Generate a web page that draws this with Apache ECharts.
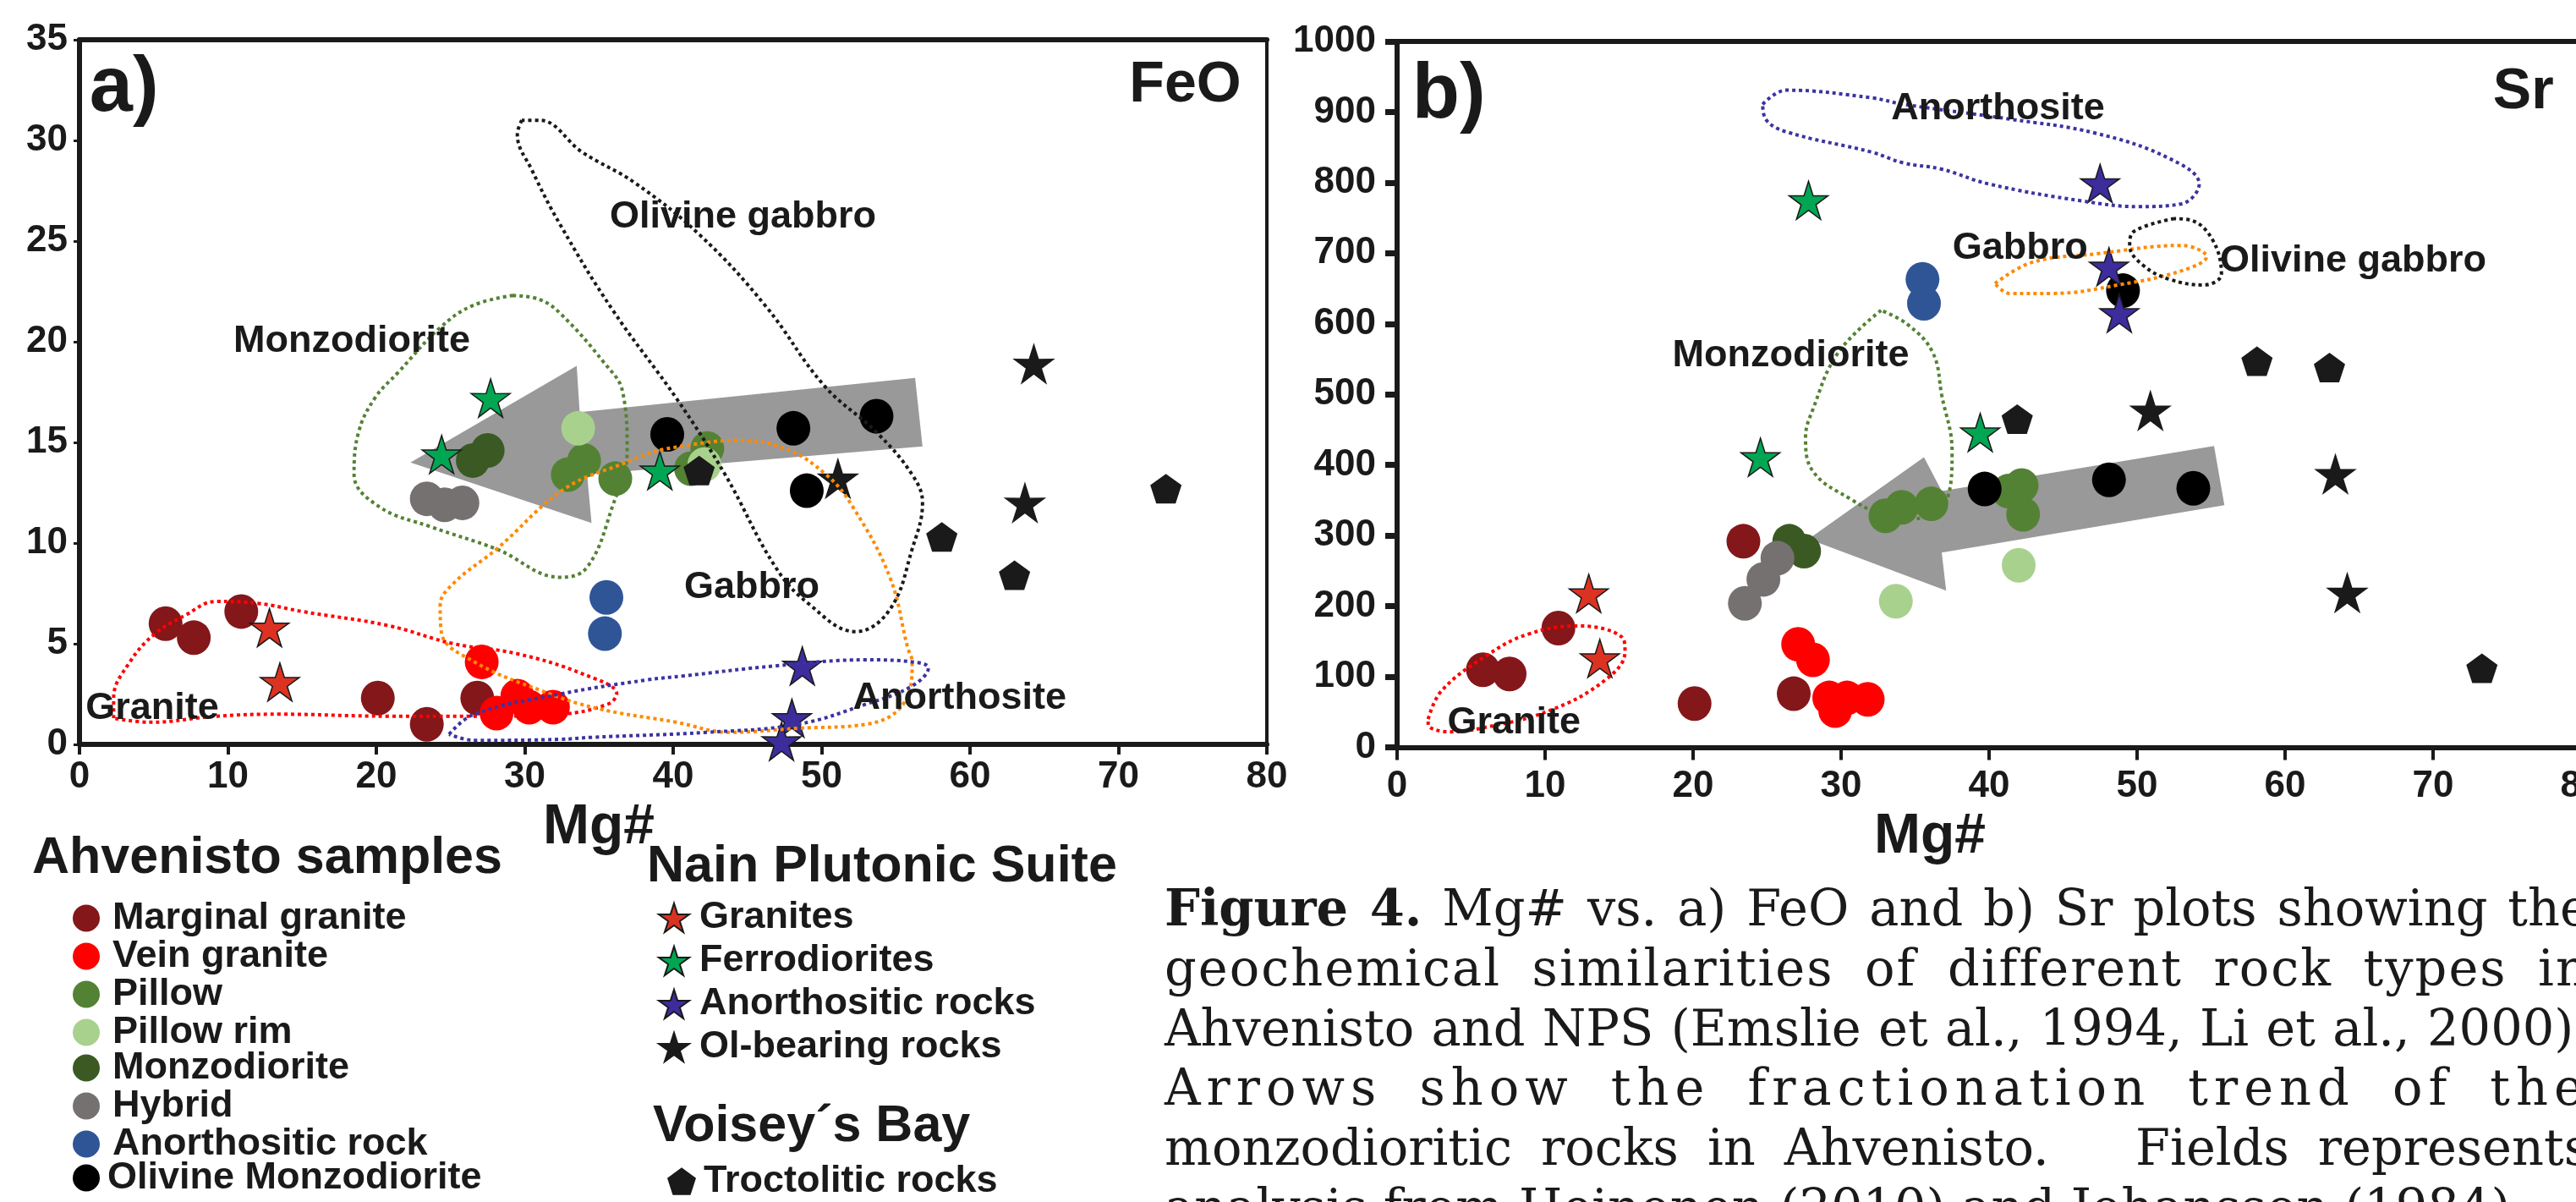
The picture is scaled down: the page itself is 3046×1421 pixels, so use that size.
<!DOCTYPE html>
<html>
<head>
<meta charset="utf-8">
<title>Mg# vs FeO and Sr</title>
<script src="https://cdn.jsdelivr.net/npm/echarts@6/dist/echarts.min.js"></script>
<style>
  html, body { margin: 0; padding: 0; background: #fff; overflow: hidden; }
  #chart { position: absolute; left: 0; top: 0; width: 3046px; height: 1421px; }
  #caption {
    position: absolute; left: 1377px; top: 1039px; width: 1685px;
    font-family: 'DejaVu Serif', Georgia, serif; font-size: 59px; line-height: 70.8px; color: #1a1a1a;
  }
  #caption .j { text-align: justify; text-align-last: justify; }
  #caption .wide { letter-spacing: 7px; }
  #caption .mid { letter-spacing: 2px; }
</style>
</head>
<body>
<div id="chart"></div>
<div id="caption">
  <div class="j"><b>Figure 4.</b> Mg# vs. a) FeO and b) Sr plots showing the</div>
  <div class="j mid">geochemical similarities of different rock types in</div>
  <div class="j">Ahvenisto and NPS (Emslie et al., 1994, Li et al., 2000).</div>
  <div class="j wide">Arrows show the fractionation trend of the</div>
  <div class="j">monzodioritic rocks in Ahvenisto.&nbsp;&nbsp; Fields represents</div>
  <div>analysis from Heinonen (2010) and Johansson (1984).</div>
</div>
<script>
const FONT = "'Liberation Sans', Arial, Helvetica, sans-serif"
const INK = '#1a1a1a'
const STAR = 'path://M50,0L61.17,34.63L97.55,34.55L68.07,55.87L79.39,90.45L50,69L20.61,90.45L31.93,55.87L2.45,34.55L38.83,34.63Z'
const PENTAGON = 'path://M50,0L100,36.3L80.9,95.1L19.1,95.1L0,36.3Z'

// axis ticks
const mgTicks = [0, 10, 20, 30, 40, 50, 60, 70, 80]
const feoTicks = [0, 5, 10, 15, 20, 25, 30, 35]
const srTicks = [0, 100, 200, 300, 400, 500, 600, 700, 800, 900, 1000]

// legend groups
const ahvenisto = ['Marginal granite', 'Vein granite', 'Pillow', 'Pillow rim', 'Monzodiorite', 'Hybrid', 'Anorthositic rock', 'Olivine Monzodiorite']
const nain = ['Granites', 'Ferrodiorites', 'Anorthositic rocks', 'Ol-bearing rocks']
const voisey = ['Troctolitic rocks']

// --- a) Mg# vs FeO  [Mg#, FeO]
const marginalFeO = [[5.8, 6.0], [7.7, 5.3], [10.9, 6.6], [20.1, 2.3], [23.4, 1.0], [26.8, 2.3]]
const veinFeO = [[27.1, 4.1], [28.1, 1.55], [29.5, 2.4], [30.3, 1.85], [31.9, 1.85]]
const pillowFeO = [[32.9, 13.4], [34.0, 14.1], [36.1, 13.2], [41.2, 13.7], [42.3, 14.7]]
const pillowRimFeO = [[33.6, 15.7], [42.1, 13.9]]
const monzoFeO = [[26.5, 14.1], [27.5, 14.6]]
const hybridFeO = [[23.4, 12.2], [24.6, 11.9], [25.8, 12.0]]
const anorthRockFeO = [[35.5, 7.3], [35.4, 5.5]]
const olMonzoFeO = [[39.6, 15.4], [48.1, 15.7], [53.7, 16.3], [49.0, 12.6]]
const npsGraniteFeO = [[12.8, 5.8], [13.5, 3.1]]
const ferroFeO = [[27.7, 17.2], [24.4, 14.4], [39.1, 13.6]]
const npsAnorthFeO = [[48.7, 3.9], [48.0, 1.3], [47.3, 0.15]]
const olBearingFeO = [[64.3, 18.9], [51.1, 13.2], [63.7, 12.0]]
const troctoFeO = [[41.75, 13.6], [58.1, 10.3], [63.0, 8.4], [73.2, 12.7]]

// --- b) Mg# vs Sr  [Mg#, Sr]
const marginalSr = [[5.8, 110], [7.6, 104], [10.9, 169], [20.1, 62], [23.4, 292], [26.8, 76]]
const veinSr = [[27.1, 146], [28.1, 124], [29.2, 70], [29.6, 52], [30.4, 70], [31.8, 68]]
const pillowSr = [[33.0, 328], [34.1, 340], [36.1, 345], [41.3, 363], [42.2, 371], [42.3, 330]]
const pillowRimSr = [[33.7, 207], [42.0, 258]]
const monzoSr = [[26.5, 292], [27.5, 278]]
const hybridSr = [[25.7, 268], [24.75, 238], [23.5, 204]]
const anorthRockSr = [[35.5, 663], [35.6, 629]]
const olMonzoSr = [[39.7, 366], [48.1, 379], [53.8, 367], [49.05, 647]]
const npsGraniteSr = [[12.95, 218], [13.7, 126]]
const ferroSr = [[27.8, 775], [24.55, 411], [39.4, 446]]
const npsAnorthSr = [[47.5, 799], [48.1, 681], [48.8, 615]]
const olBearingSr = [[50.9, 477], [63.4, 387], [64.2, 219]]
const troctoSr = [[41.9, 465], [58.1, 547], [63.0, 538], [73.3, 112]]

// field outlines (data units)
const graniteFieldFeO = [[2.3, 1.3], [2.3, 2.3], [3.4, 4.1], [5.1, 5.5], [7.1, 6.4], [9.2, 7.1], [12.1, 7.0], [15, 6.6], [20.8, 5.9], [25.2, 5.0], [29.5, 4.5], [33.9, 3.5], [36.2, 2.5], [35.6, 2.0], [32.4, 1.5], [26.6, 1.4], [20.8, 1.4], [13.5, 1.5], [9.2, 1.4], [4.8, 1.1], [2.3, 1.3]]
const monzoFieldFeO = [[29.2, 22.3], [26.5, 21.8], [24.3, 20.7], [21.5, 18.5], [19.9, 17.2], [18.8, 15.5], [18.5, 13.4], [20.2, 11.8], [23.7, 10.8], [28.1, 9.7], [32.4, 8.3], [34.2, 8.8], [35.9, 11.8], [36.9, 14.6], [36.6, 17.5], [35.3, 19.0], [32.4, 21.4], [31, 22.1], [29.2, 22.3]]
const gabbroFieldFeO = [[38.9, 14.6], [36.8, 14.0], [32.7, 12.7], [28.1, 9.7], [25.2, 8.0], [24.3, 6.9], [24.4, 5.5], [26.6, 4.1], [31, 2.7], [34.8, 1.8], [40.2, 1.1], [43.8, 0.6], [48.4, 0.8], [53.0, 1.0], [55.5, 2.0], [56.1, 4.1], [55.8, 4.8], [54.6, 8.3], [52.1, 11.8], [50.3, 13.4], [47.5, 14.7], [44.1, 15.1], [42.3, 15.0], [38.9, 14.6]]
const olGabbroFieldFeO = [[29.8, 31.0], [29.5, 30.3], [30.5, 28.5], [32.4, 25.8], [35.9, 21.6], [40.3, 17.1], [43.5, 13.4], [46.9, 8.8], [49.1, 7.0], [52.3, 5.6], [54.6, 6.7], [56.1, 9.7], [56.8, 12.0], [56.1, 13.4], [53.7, 15.5], [50.2, 17.8], [46.2, 21.8], [41.8, 25.3], [37.4, 27.9], [33.9, 29.4], [31, 31], [29.8, 31.0]]
const anorthFieldFeO = [[24.9, 0.5], [26.6, 1.5], [32.4, 2.5], [38.2, 3.2], [40.7, 3.4], [46.9, 3.9], [53.0, 4.2], [56.1, 4.1], [57.2, 3.8], [56.1, 2.9], [53, 2.0], [48.4, 1.0], [42.3, 0.6], [34.5, 0.35], [32.4, 0.25], [26.6, 0.2], [24.9, 0.5]]

const graniteFieldSr = [[2.1, 40], [3.0, 80], [5.9, 128], [8.8, 160], [12.3, 172], [15.2, 156], [15.4, 136], [14.1, 96], [10.3, 52], [5.9, 28], [3.5, 22], [2.1, 32], [2.1, 40]]
const monzoFieldSr = [[32.7, 619], [29.8, 559], [28.1, 479], [27.6, 439], [28.1, 391], [30.7, 351], [32.7, 331], [35.0, 324], [37.1, 348], [37.5, 419], [36.8, 499], [36.2, 559], [34.5, 599], [32.7, 619]]
const gabbroFieldSr = [[40.4, 657], [42.9, 687], [47.2, 699], [53.0, 711], [54.7, 695], [53.0, 675], [48.7, 655], [44.3, 643], [41.4, 643], [40.4, 657]]
const olGabbroFieldSr = [[52.5, 749], [49.8, 731], [49.5, 711], [50.4, 683], [52.2, 663], [54.5, 655], [55.7, 671], [55.1, 719], [53.6, 747], [52.5, 749]]
const anorthFieldSr = [[24.7, 911], [26.3, 931], [32.1, 920], [34.2, 911], [41.4, 890], [47.2, 870], [52.2, 834], [54.2, 798], [53.0, 770], [50.1, 766], [46.3, 774], [40.0, 798], [36.8, 819], [34.2, 828], [32.1, 843], [26.3, 872], [24.9, 890], [24.7, 911]]

// fractionation arrows (polygon vertices, data units)
const arrowFeO = [[22.3, 14.0], [33.5, 18.8], [33.7, 16.5], [56.3, 18.2], [56.8, 14.8], [34.2, 13.4], [34.5, 11.0]]
const arrowSr = [[27.8, 295], [35.6, 411], [36.8, 363], [55.2, 427], [55.9, 343], [36.8, 276], [37.1, 222]]

// text labels inside the panels
const labelsFeO = [['a)', 3.0, 32.55], ['FeO', 74.5, 32.7], ['Olivine gabbro', 44.7, 26.2], ['Monzodiorite', 18.35, 20.0], ['Gabbro', 45.3, 7.8], ['Anorthosite', 59.3, 2.3], ['Granite', 4.9, 1.8]]
const labelsSr = [['b)', 3.5, 922], ['Sr', 76.1, 928], ['Anorthosite', 40.6, 905], ['Gabbro', 42.1, 707], ['Olivine gabbro', 64.6, 689], ['Monzodiorite', 26.6, 555], ['Granite', 7.9, 35]]

const feoSets = [marginalFeO, veinFeO, pillowFeO, pillowRimFeO, monzoFeO, hybridFeO, anorthRockFeO, olMonzoFeO, npsGraniteFeO, ferroFeO, npsAnorthFeO, olBearingFeO, troctoFeO]
const srSets = [marginalSr, veinSr, pillowSr, pillowRimSr, monzoSr, hybridSr, anorthRockSr, olMonzoSr, npsGraniteSr, ferroSr, npsAnorthSr, olBearingSr, troctoSr]
const allNames = ahvenisto.concat(nain, voisey)

const colors = ['#84171a', '#ff0000', '#548235', '#a9d18e', '#3b5a23', '#767171', '#2f5597', '#000000', '#dc3222', '#00a651', '#3c2c9c', '#1a1a1a', '#1a1a1a']

const symbolFor = (name) => ahvenisto.includes(name) ? 'circle' : (nain.includes(name) ? STAR : PENTAGON)
const sizeFor = (name) => ahvenisto.includes(name) ? [40, 41] : (nain.includes(name) ? [46, 45] : [37, 35])

const pointSeries = (panel, sets) => allNames.map((name, i) => ({
  name,
  type: 'scatter',
  xAxisIndex: panel * 2,
  yAxisIndex: panel,
  data: sets[i],
  symbol: symbolFor(name),
  symbolSize: sizeFor(name),
  itemStyle: {
    color: colors[i],
    opacity: 1,
    borderColor: nain.includes(name) && name !== 'Ol-bearing rocks' ? INK : colors[i],
    borderWidth: nain.includes(name) ? 1.5 : 0
  },
  z: 3,
  silent: true
}))

const fieldSeries = (panel, data, color) => ({
  type: 'line',
  xAxisIndex: panel * 2,
  yAxisIndex: panel,
  data,
  smooth: 0.4,
  symbol: 'none',
  lineStyle: { color, width: 4, type: [4, 4] },
  z: 4,
  silent: true
})

const arrowSeries = (panel, verts) => ({
  type: 'custom',
  xAxisIndex: panel * 2,
  yAxisIndex: panel,
  data: verts,
  encode: { x: 0, y: 1 },
  z: 1,
  silent: true,
  renderItem: (params, api) => {
    if (params.dataIndex !== 0) return null
    return {
      type: 'polygon',
      shape: { points: verts.map(p => api.coord(p)) },
      style: { fill: '#999999' }
    }
  }
})

const labelSize = (t) => (t.endsWith(')') ? 92 : (t === 'FeO' || t === 'Sr') ? 68 : 45)
const labelSeries = (panel, labels) => ({
  type: 'scatter',
  xAxisIndex: panel * 2,
  yAxisIndex: panel,
  symbolSize: 1,
  itemStyle: { color: 'rgba(255,255,255,0)', opacity: 1 },
  data: labels.map(([t, x, y]) => ({ value: [x, y], name: t, label: { fontSize: labelSize(t) } })),
  label: {
    show: true, position: 'inside', formatter: '{b}', opacity: 1,
    color: INK, fontWeight: 'bold', fontFamily: FONT, align: 'center', verticalAlign: 'middle',
    textBorderWidth: 0
  },
  z: 5,
  silent: true
})

const tickText = { fontSize: 44, fontWeight: 'bold', color: INK, fontFamily: FONT, lineHeight: 44, formatter: (v) => String(v) }

const bottomX = (grid, gap, tick, margin, shift) => ({
  gridIndex: grid, type: 'value', position: 'bottom',
  min: mgTicks[0], max: mgTicks[mgTicks.length - 1], interval: mgTicks[1] - mgTicks[0],
  axisLine: { show: true, onZero: false, lineStyle: { color: INK, width: 6 } },
  axisTick: { show: true, length: tick, lineStyle: { color: INK, width: 4 } },
  axisLabel: Object.assign({ margin }, tickText),
  splitLine: { show: false },
  name: 'Mg#', nameLocation: 'middle', nameGap: gap,
  nameTextStyle: { fontSize: 66, fontWeight: 'bold', color: INK, fontFamily: FONT, lineHeight: 66, verticalAlign: 'top', padding: [0, shift, 0, 0] }
})
const topX = (grid) => ({
  gridIndex: grid, type: 'value', position: 'top',
  min: mgTicks[0], max: mgTicks[mgTicks.length - 1],
  axisLine: { show: true, onZero: false, lineStyle: { color: INK, width: 6 } },
  axisTick: { show: false }, axisLabel: { show: false }, splitLine: { show: false }
})
const leftY = (grid, ticks, tickLen, tickW, margin) => ({
  gridIndex: grid, type: 'value',
  min: ticks[0], max: ticks[ticks.length - 1], interval: ticks[1] - ticks[0],
  axisLine: { show: true, onZero: false, lineStyle: { color: INK, width: 6 } },
  axisTick: { show: true, length: tickLen, lineStyle: { color: INK, width: tickW } },
  axisLabel: Object.assign({ margin }, tickText),
  splitLine: { show: false }
})

const legendText = (lh, pad) => ({ fontSize: 45, fontWeight: 'bold', color: INK, fontFamily: FONT, lineHeight: lh, padding: [0, 0, 0, pad] })
const legendBox = (names, icon, left, top, w, h, lh, pad) => ({
  data: names.map(n => ({ name: n, icon })),
  orient: 'vertical', left, top, padding: 0, itemGap: 0,
  itemWidth: w, itemHeight: h, selectedMode: false,
  textStyle: legendText(lh, pad)
})

const heading = (text, x, y) => ({
  type: 'text', x, y,
  style: { text, fill: INK, font: 'bold 61px ' + FONT, textVerticalAlign: 'middle', verticalAlign: 'middle' }
})

const chart = echarts.init(document.getElementById('chart'), null, { renderer: 'canvas' })

chart.setOption({
  animation: false,
  backgroundColor: '#ffffff',
  grid: [
    { left: 94, top: 47, width: 1404, height: 833, show: true, borderColor: INK, borderWidth: 4, backgroundColor: 'transparent', outerBoundsMode: 'none', containLabel: false },
    { left: 1652, top: 49, width: 1400, height: 834.5, show: false, outerBoundsMode: 'none', containLabel: false }
  ],
  xAxis: [
    bottomX(0, 46, 12, 17, 176),
    topX(0),
    bottomX(1, 73, 15, 24, 140),
    topX(1)
  ],
  yAxis: [
    leftY(0, feoTicks, 7, 3, 14),
    leftY(1, srTicks, 14, 7, 25)
  ],
  legend: [
    legendBox(ahvenisto.slice(0, 4), 'circle', 86, 1063, 32, 32, 44, 10),
    legendBox(ahvenisto.slice(4, 7), 'circle', 86, 1240, 32, 32, 44, 10),
    legendBox(ahvenisto.slice(7), 'circle', 86, 1370, 32, 32, 44, 4),
    legendBox(nain, STAR, 778, 1059.5, 36, 36, 51, 7),
    legendBox(voisey, PENTAGON, 789, 1374, 34, 33, 44, 4)
  ],
  graphic: [
    heading('Ahvenisto samples', 38, 1015),
    heading('Nain Plutonic Suite', 765, 1025),
    heading('Voisey\u00b4s Bay', 772, 1332)
  ],
  series: [
    arrowSeries(0, arrowFeO),
    arrowSeries(1, arrowSr),
    ...pointSeries(0, feoSets),
    ...pointSeries(1, srSets),
    fieldSeries(0, graniteFieldFeO, '#ff0000'),
    fieldSeries(0, monzoFieldFeO, '#548235'),
    fieldSeries(0, gabbroFieldFeO, '#ff8a00'),
    fieldSeries(0, olGabbroFieldFeO, '#1a1a1a'),
    fieldSeries(0, anorthFieldFeO, '#3b33a0'),
    fieldSeries(1, graniteFieldSr, '#ff0000'),
    fieldSeries(1, monzoFieldSr, '#548235'),
    fieldSeries(1, gabbroFieldSr, '#ff8a00'),
    fieldSeries(1, olGabbroFieldSr, '#1a1a1a'),
    fieldSeries(1, anorthFieldSr, '#3b33a0'),
    labelSeries(0, labelsFeO),
    labelSeries(1, labelsSr)
  ]
})
</script>
</body>
</html>
